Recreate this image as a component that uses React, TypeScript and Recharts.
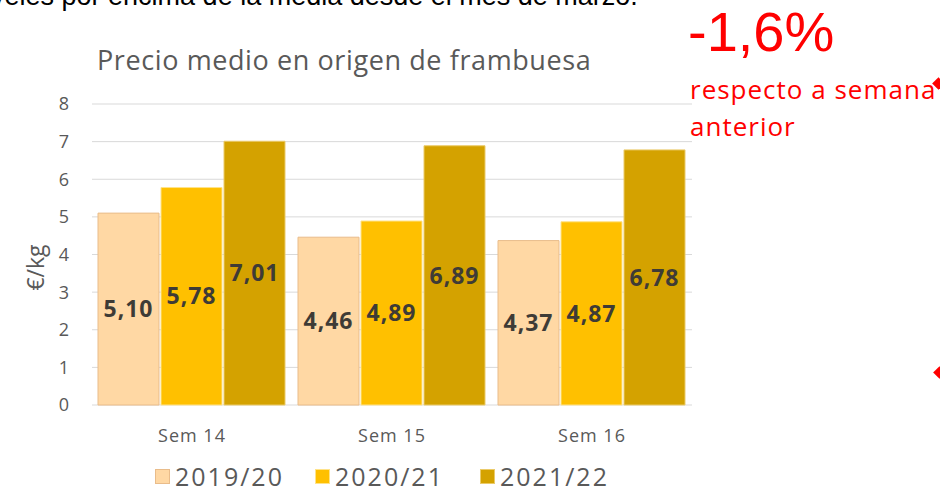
import { BarChart, Bar, XAxis, YAxis, CartesianGrid, Legend, LabelList } from 'recharts';

// Weeks and prices (€/kg) per campaign
const weeks = ['Sem 14', 'Sem 15', 'Sem 16'];
const campaign1920 = [5.1, 4.46, 4.37];
const campaign2021 = [5.78, 4.89, 4.87];
const campaign2122 = [7.01, 6.89, 6.78];
const yTicks = [0, 1, 2, 3, 4, 5, 6, 7, 8];

const SERIES = [
  { key: '2019/20', values: campaign1920, fill: '#FFD8A4', stroke: '#E9BC8A' },
  { key: '2020/21', values: campaign2021, fill: '#FFC000', stroke: '#FFE38A' },
  { key: '2021/22', values: campaign2122, fill: '#D4A200', stroke: '#EBCB6A' },
];

const data = weeks.map((week, i) => {
  const row: Record<string, number | string> = { week };
  SERIES.forEach((s) => {
    row[s.key] = s.values[i];
  });
  return row;
});

const FONT = '"Open Sans", Lato, sans-serif';
const GRAY = '#595959';

const fmt = (v: any) => Number(v).toFixed(2).replace('.', ',');

function LegendContent() {
  const pos = [155, 315, 480];
  return (
    <div style={{ position: 'relative', width: 940, height: 34 }}>
      {SERIES.map((s, i) => (
        <div
          key={s.key}
          style={{
            position: 'absolute',
            left: pos[i],
            top: 0,
            display: 'flex',
            alignItems: 'center',
            fontFamily: FONT,
            fontSize: 25,
            letterSpacing: 2,
            color: GRAY,
          }}
        >
          <span
            style={{
              display: 'inline-block',
              width: 15,
              height: 15,
              background: s.fill,
              border: `1px solid ${s.stroke}`,
              boxSizing: 'border-box',
              marginRight: 5,
            }}
          />
          {s.key}
        </div>
      ))}
    </div>
  );
}

export default function App() {
  return (
    <div
      style={{
        position: 'absolute',
        left: 0,
        top: 0,
        width: 940,
        height: 493,
        overflow: 'hidden',
        background: '#fff',
      }}
    >
      {/* cut-off text from the slide above */}
      <div
        style={{
          position: 'absolute',
          left: -30,
          top: -19,
          fontFamily: '"Liberation Sans", Arial, sans-serif',
          fontSize: 27,
          color: '#000',
          whiteSpace: 'nowrap',
        }}
      >
        niveles por encima de la media desde el mes de marzo.
      </div>

      <BarChart
        width={940}
        height={493}
        data={data}
        margin={{ top: 104, right: 248, bottom: 0, left: 58 }}
        barCategoryGap={6}
        barGap={2}
      >
        <CartesianGrid vertical={false} stroke="#D9D9D9" />
        <XAxis
          dataKey="week"
          axisLine={false}
          tickLine={false}
          height={54}
          tick={{ fill: GRAY, fontSize: 18, letterSpacing: 1, fontFamily: FONT, dy: 16 }}
        />
        <YAxis
          domain={[0, 8]}
          ticks={yTicks}
          interval={0}
          axisLine={false}
          tickLine={false}
          width={34}
          tick={{ fill: GRAY, fontSize: 18, fontFamily: FONT, dx: -15 }}
          label={{
            value: '€/kg',
            angle: -90,
            position: 'insideLeft',
            offset: -22,
            dy: 13,
            style: { fill: GRAY, fontSize: 23, fontFamily: FONT, textAnchor: 'middle' },
          }}
        />
        <Legend verticalAlign="bottom" align="left" wrapperStyle={{ left: 0, bottom: 0, width: 940 }} content={<LegendContent />} />
        {SERIES.map((s) => (
          <Bar key={s.key} dataKey={s.key} fill={s.fill} stroke={s.stroke} strokeWidth={1} isAnimationActive={false}>
            <LabelList
              dataKey={s.key}
              position="center"
              formatter={fmt}
              style={{ fill: '#3E3B36', fontSize: 23, fontWeight: 700, letterSpacing: 1, fontFamily: FONT }}
            />
          </Bar>
        ))}
      </BarChart>

      <div
        style={{
          position: 'absolute',
          left: 97,
          top: 41,
          fontFamily: FONT,
          fontSize: 27,
          letterSpacing: 0.6,
          color: GRAY,
          whiteSpace: 'nowrap',
        }}
      >
        Precio medio en origen de frambuesa
      </div>

      <div
        style={{
          position: 'absolute',
          left: 688,
          top: 0,
          fontFamily: '"Liberation Sans", Arial, sans-serif',
          fontSize: 56,
          lineHeight: '64px',
          color: '#FF0000',
          whiteSpace: 'nowrap',
        }}
      >
        -1,6%
      </div>
      <div
        style={{
          position: 'absolute',
          left: 690,
          top: 71,
          fontFamily: FONT,
          fontSize: 26,
          letterSpacing: 1,
          lineHeight: '37px',
          color: '#FF0000',
          whiteSpace: 'nowrap',
        }}
      >
        respecto a semana
        <br />
        anterior
      </div>
      <div style={{ position: 'absolute', left: 934, top: 79, width: 9, height: 9, background: '#FF0000', transform: 'rotate(45deg)' }} />
      <div style={{ position: 'absolute', left: 935, top: 368, width: 9, height: 9, background: '#FF0000', transform: 'rotate(45deg)' }} />
    </div>
  );
}
